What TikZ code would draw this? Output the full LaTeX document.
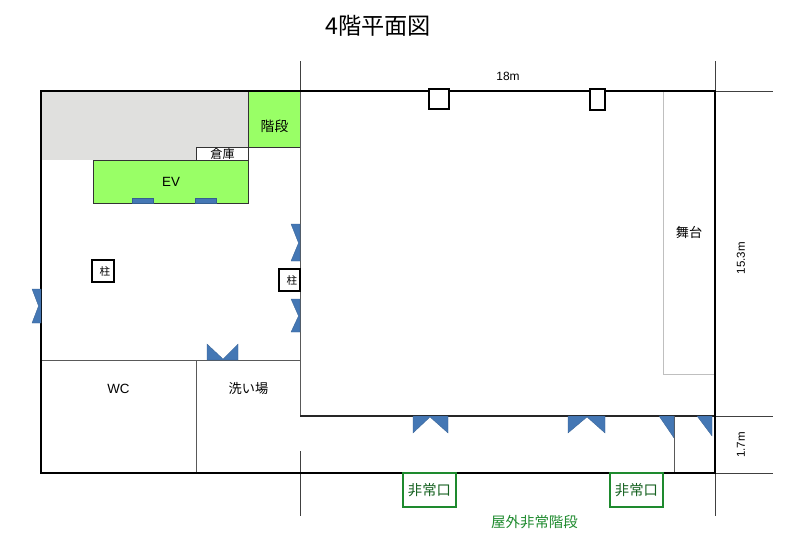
\documentclass[tikz,border=0pt]{standalone}
\usepackage{fontspec}
\setmainfont{Liberation Sans}
\newfontfamily\jpfont{Noto Sans CJK JP}
\usepackage{tikz}
\definecolor{doorblue}{HTML}{4477B4}
\definecolor{evgreen}{HTML}{99FF66}
\definecolor{exitgreen}{HTML}{1E8A2E}
\definecolor{storegray}{HTML}{E0E0DE}
\newcommand{\drawcolumn}[4]{
    \draw[line width=1.3pt,fill=white] (#1,#2) rectangle (#3,#4);
}
\tikzset{
    door/.style={fill=doorblue,draw=doorblue!80!black,line width=0.2pt},
    wall/.style={line width=1.3pt,black},
    partition/.style={line width=0.7pt,black!65},
    guide/.style={line width=0.5pt,black!75},
    label/.style={font=\jpfont\fontsize{9.8}{11}\selectfont,inner sep=0pt},
    size/.style={font=\fontsize{8.2}{10}\selectfont,inner sep=0pt},
    exitbox/.style={draw=exitgreen,line width=1.1pt,fill=white,minimum width=37.5pt,minimum height=24pt,inner sep=0pt,text=exitgreen!70!black,font=\jpfont\fontsize{10.2}{11}\selectfont}
}
\begin{document}
\begin{tikzpicture}[x=0.25mm,y=-0.25mm]
    \useasboundingbox (0,0) rectangle (800,548);
    % Rooms with a fill
    \fill[storegray] (41,91) rectangle (248,160);
    \draw[black!80,line width=0.7pt,fill=evgreen] (248,91) rectangle (300,147);
    \draw[black!80,line width=0.7pt,fill=white] (196,147) rectangle (248,160);
    \draw[black!80,line width=0.7pt,fill=evgreen] (93,160) rectangle (248,203);
    \foreach \i in {132,195}{
        \draw[door] (\i,198) rectangle ++(21,5);
    }

    % Stage
    \draw[black!25,line width=0.5pt] (663,91) -- (663,374) -- (715,374);

    % Dimension lines and inner walls
    \draw[guide] (300,61) -- (300,91);
    \draw[partition] (300,91) -- (300,416);
    \draw[guide] (300,451) -- (300,516);
    \draw[guide] (715,61) -- (715,91);
    \draw[guide] (715,473) -- (715,516);
    \draw[guide] (715,91) -- (773,91);
    \draw[guide] (715,416) -- (773,416);
    \draw[guide] (715,473) -- (773,473);
    \draw[black!85,line width=0.8pt] (300,416) -- (715,416);
    \draw[partition] (41,360) -- (300,360);
    \draw[partition] (196,360) -- (196,473);
    \draw[partition] (674,416) -- (674,473);

    % Outer wall
    \draw[wall] (41,91) rectangle (715,473);

    % Columns
    \drawcolumn{92}{260}{114}{282}
    \drawcolumn{279}{269}{300}{291}
    \drawcolumn{429}{89}{449}{109}
    \drawcolumn{590}{89}{605}{110}

    % Doors on the walls
    \draw[door] (32,289) -- (41,289) -- (41,323) -- (32,323) -- (38.5,306) -- cycle;
    \draw[door] (291,224) -- (300,224) -- (300,261) -- (291,261) -- (298.5,243) -- cycle;
    \draw[door] (291,299) -- (300,299) -- (300,332) -- (291,332) -- (298.5,316) -- cycle;
    \draw[door] (207,360) -- (207,344) -- (223,359) -- (238,344) -- (238,360) -- cycle;
    \draw[door] (413,416) -- (448,416) -- (448,433) -- (430,417) -- (413,433) -- cycle;
    \draw[door] (568,416) -- (605,416) -- (605,433) -- (587,417) -- (568,433) -- cycle;
    \draw[door] (659,416) -- (674,416) -- (674,438) -- cycle;
    \draw[door] (697,416) -- (712,416) -- (712,436) -- cycle;

    % Labels
    \node[font=\jpfont\fontsize{16.5}{18}\selectfont,inner sep=0pt] (title) at (378,26) {4階平面図};
    \node[size,font=\fontsize{8.5}{10}\selectfont] (width) at (508,76) {18m};
    \node[size,rotate=90] (depth) at (741,258) {15.3m};
    \node[size,rotate=90] (corridor) at (741,445) {1.7m};
    \node[label] (stairs) at (274.5,126) {階段};
    \node[label,font=\jpfont\fontsize{8.6}{10}\selectfont] (store) at (222.5,154) {倉庫};
    \node[size,font=\fontsize{9.5}{11}\selectfont] (ev) at (171,182) {EV};
    \node[label,font=\jpfont\fontsize{7.5}{9}\selectfont] (pillara) at (105,271) {柱};
    \node[label,font=\jpfont\fontsize{7.5}{9}\selectfont] (pillarb) at (292,280) {柱};
    \node[label,font=\jpfont\fontsize{9.4}{11}\selectfont] (stage) at (689,232) {舞台};
    \node[size,font=\fontsize{9.5}{11}\selectfont] (wc) at (118.5,389) {WC};
    \node[label,font=\jpfont\fontsize{9.4}{11}\selectfont] (wash) at (248.5,388) {洗い場};

    % Emergency exits
    \node[exitbox] (exita) at (429.5,490) {非常口};
    \node[exitbox] (exitb) at (636.5,490) {非常口};
    \node[label,text=exitgreen,font=\jpfont\fontsize{10.3}{11}\selectfont] (outstairs) at (534.5,522) {屋外非常階段};
\end{tikzpicture}
\end{document}
